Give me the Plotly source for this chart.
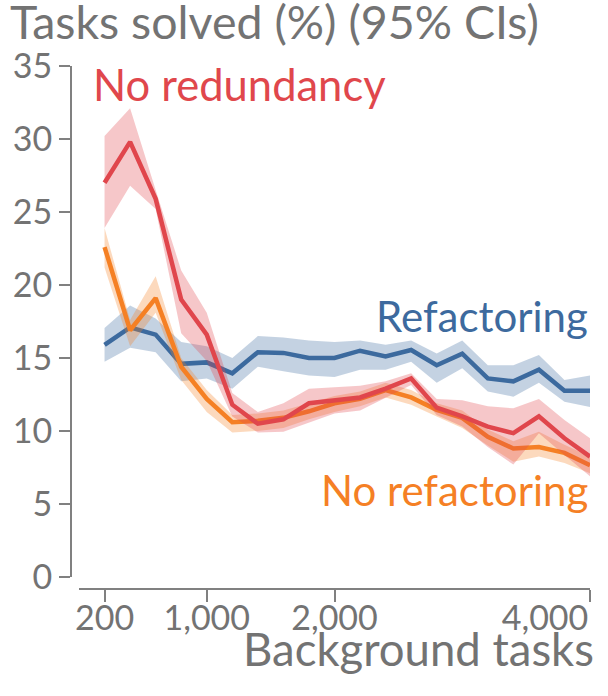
import plotly.graph_objects as go

background_tasks = [200, 400, 600, 800, 1000, 1200, 1400, 1600, 1800, 2000,
                    2200, 2400, 2600, 2800, 3000, 3200, 3400, 3600, 3800, 4000]

refactoring_mean = [15.9, 17.1, 16.6, 14.6, 14.7, 13.95, 15.4, 15.35, 15.0, 15.0,
                    15.5, 15.1, 15.55, 14.5, 15.3, 13.6, 13.4, 14.2, 12.75, 12.75]
refactoring_hi = [17.05, 18.6, 17.7, 16.1, 15.8, 15.0, 16.5, 16.4, 16.2, 16.1,
                  16.2, 15.9, 16.2, 15.3, 16.2, 14.5, 14.5, 15.2, 13.5, 13.8]
refactoring_lo = [14.75, 15.7, 15.4, 13.4, 13.6, 12.9, 14.4, 14.1, 13.8, 13.7,
                  14.2, 14.2, 14.75, 13.3, 14.3, 12.7, 12.35, 13.3, 12.0, 11.65]

norefac_mean = [22.6, 16.9, 19.1, 14.4, 12.2, 10.6, 10.7, 10.9, 11.35, 11.9,
                12.2, 12.8, 12.3, 11.45, 10.9, 9.6, 8.8, 8.9, 8.5, 7.65]
norefac_hi = [23.9, 17.6, 20.6, 15.0, 12.8, 11.1, 11.2, 11.4, 11.9, 12.4,
              12.7, 13.3, 12.8, 11.9, 11.4, 10.1, 9.3, 9.95, 9.05, 8.25]
norefac_lo = [21.2, 15.8, 18.1, 13.5, 11.3, 9.9, 10.0, 10.2, 10.8, 11.3,
              11.7, 12.3, 11.8, 11.0, 10.2, 9.0, 7.9, 8.25, 7.8, 7.1]

noredund_mean = [27.0, 29.8, 25.9, 19.0, 16.6, 11.8, 10.5, 10.8, 11.9, 12.1,
                 12.3, 12.9, 13.6, 11.6, 11.0, 10.3, 9.85, 11.0, 9.5, 8.25]
noredund_hi = [30.2, 32.1, 26.5, 21.0, 18.1, 12.6, 11.3, 11.9, 12.9, 13.0,
               13.1, 13.4, 13.95, 12.2, 12.1, 11.7, 11.55, 12.2, 10.75, 9.5]
noredund_lo = [23.9, 26.8, 25.2, 16.7, 14.8, 11.0, 9.9, 9.95, 10.6, 11.2,
               11.4, 12.3, 13.15, 11.1, 10.3, 8.9, 7.7, 9.85, 8.35, 6.9]

x_tickvals = [200, 1000, 2000]
x_ticktext = ["200", "1,000", "2,000"]
x_last_tickval = [4000]
x_last_ticktext = ["4,000"]
y_tickvals = [0, 5, 10, 15, 20, 25, 30, 35]

FONT = "Lato"
GRAY = "#737373"
AXIS = "#808080"

series = [
    ("Refactoring", refactoring_mean, refactoring_hi, refactoring_lo, (61, 106, 158)),
    ("No refactoring", norefac_mean, norefac_hi, norefac_lo, (245, 128, 37)),
    ("No redundancy", noredund_mean, noredund_hi, noredund_lo, (224, 71, 76)),
]

fig = go.Figure()
for name, mean, hi, lo, (r, g, b) in series:
    fig.add_trace(go.Scatter(
        x=background_tasks, y=mean, mode="lines", name=name,
        line=dict(color=f"rgb({r},{g},{b})", width=4.5), showlegend=False))
    fig.add_trace(go.Scatter(
        x=background_tasks + background_tasks[::-1], y=hi + lo[::-1],
        mode="lines", fill="toself", line=dict(width=0),
        fillcolor=f"rgba({r},{g},{b},0.3)", hoverinfo="skip", showlegend=False))
# empty trace that carries the overlay axis holding the right-aligned last tick label
fig.add_trace(go.Scatter(x=[], y=[], xaxis="x2", yaxis="y", showlegend=False, hoverinfo="skip"))

W, H = 608, 696
ml, mr, mt, mb = 60, 18, 66, 100
pw = W - ml - mr
ph = H - mt - mb
x_dom0 = (79 - ml) / pw
y_axis_pos = (71 - ml) / pw
y_dom0 = (H - mb - 577) / ph
x_axis_pos = (H - mb - 589) / ph

common_x = dict(
    domain=[x_dom0, 1], range=[0, 4000], anchor="free", position=x_axis_pos,
    showgrid=False, zeroline=False,
    ticks="outside", ticklen=12, tickwidth=2, tickcolor=AXIS,
    ticklabeloverflow="allow", ticklabelstandoff=-13,
    tickfont=dict(family=FONT, size=34, color=GRAY),
)

fig.update_layout(
    width=W, height=H,
    margin=dict(l=ml, r=mr, t=mt, b=mb, autoexpand=False),
    plot_bgcolor="white", paper_bgcolor="white",
    font=dict(family=FONT, color=GRAY),
    xaxis=dict(**common_x, showline=True, linecolor=AXIS, linewidth=2,
               tickvals=x_tickvals, ticktext=x_ticktext),
    xaxis2=dict(**common_x, overlaying="x", showline=False,
                tickvals=x_last_tickval, ticktext=x_last_ticktext, ticklabelshift=-45),
    yaxis=dict(
        domain=[y_dom0, 1], range=[0, 35], anchor="free", position=y_axis_pos,
        showgrid=False, zeroline=False, showline=True, linecolor=AXIS, linewidth=2,
        ticks="outside", ticklen=11, tickwidth=2, tickcolor=AXIS,
        tickvals=y_tickvals, tickfont=dict(family=FONT, size=34, color=GRAY),
    ),
    showlegend=False,
)

def px_x(p):
    return (p - ml) / pw

def px_y(p):
    return (H - mb - p) / ph

fig.add_annotation(text="Tasks solved (%) (95% CIs)", xref="paper", yref="paper",
                   x=px_x(8), y=px_y(-9), xanchor="left", yanchor="top",
                   showarrow=False, font=dict(family=FONT, size=46.5, color=GRAY))
fig.add_annotation(text="Background tasks", xref="paper", yref="paper",
                   x=px_x(596), y=px_y(648), xanchor="right", yanchor="middle",
                   showarrow=False, font=dict(family=FONT, size=45.5, color=GRAY))
fig.add_annotation(text="No redundancy", xref="paper", yref="paper",
                   x=px_x(91), y=px_y(84), xanchor="left", yanchor="middle",
                   showarrow=False, font=dict(family=FONT, size=43.5, color="rgb(224,71,76)"))
fig.add_annotation(text="Refactoring", xref="paper", yref="paper",
                   x=px_x(590), y=px_y(315.5), xanchor="right", yanchor="middle",
                   showarrow=False, font=dict(family=FONT, size=42, color="rgb(61,106,158)"))
fig.add_annotation(text="No refactoring", xref="paper", yref="paper",
                   x=px_x(590), y=px_y(489.5), xanchor="right", yanchor="middle",
                   showarrow=False, font=dict(family=FONT, size=42, color="rgb(245,128,37)"))

fig.write_html("out.html", config={"displayModeBar": False},
               post_script="document.body.style.margin='0';document.body.style.overflow='hidden';")
